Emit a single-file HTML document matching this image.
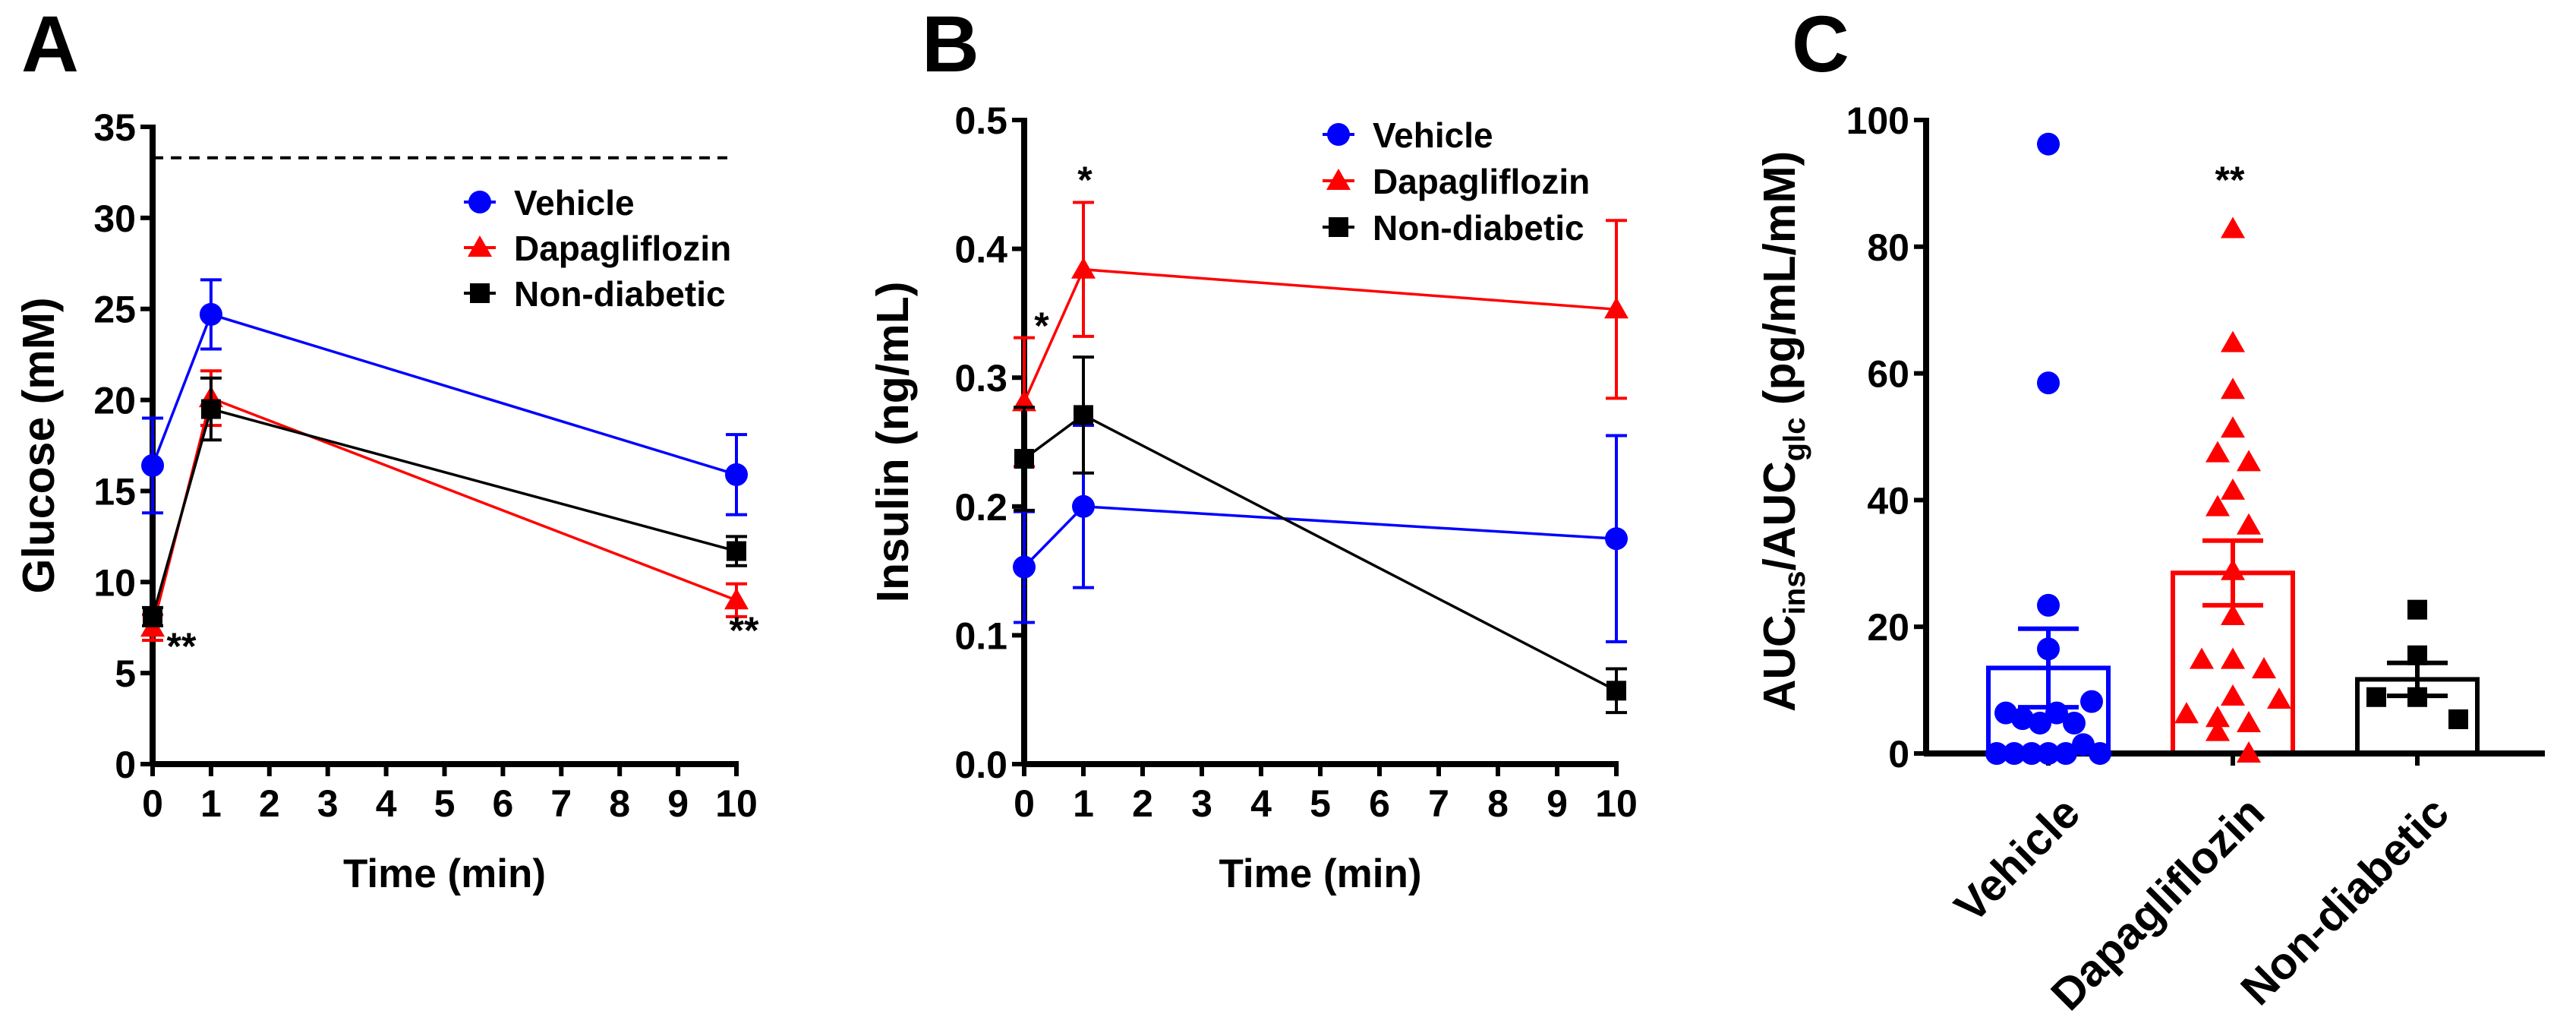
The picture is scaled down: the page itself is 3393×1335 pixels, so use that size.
<!DOCTYPE html>
<html><head><meta charset="utf-8"><style>
html,body{margin:0;padding:0;background:#fff}
svg{display:block}
text{font-family:"Liberation Sans",Arial,sans-serif;font-weight:bold}
</style></head><body>
<svg id="fig" width="3393" height="1335" viewBox="0 0 3393 1335" xmlns="http://www.w3.org/2000/svg"></svg>
<script>
const timesMin = [0, 1, 10];
const xTicks = [0,1,2,3,4,5,6,7,8,9,10];
const glucoseTicks = [0,5,10,15,20,25,30,35];
const glucoseVehicle = [16.4, 24.7, 15.9];
const glucoseVehicleErr = [2.6, 1.9, 2.2];
const glucoseDapa = [7.5, 20.1, 9.0];
const glucoseDapaErr = [0.7, 1.5, 0.9];
const glucoseND = [8.1, 19.5, 11.7];
const glucoseNDErr = [0.5, 1.7, 0.8];
const glucoseThreshold = 33.3;
const insulinTicks = [0.0,0.1,0.2,0.3,0.4,0.5];
const insulinVehicle = [0.153, 0.200, 0.175];
const insulinVehicleErr = [0.043, 0.063, 0.080];
const insulinDapa = [0.281, 0.384, 0.353];
const insulinDapaErr = [0.050, 0.052, 0.069];
const insulinND = [0.237, 0.271, 0.057];
const insulinNDErr = [0.040, 0.045, 0.017];
const aucCategories = ["Vehicle","Dapagliflozin","Non-diabetic"];
const aucTicks = [0,20,40,60,80,100];
const aucMeans = [13.5, 28.5, 11.7];
const aucSEM = [6.2, 5.1, 2.6];
const aucVehiclePts = [96.2,58.5,23.4,16.5,6.4,5.5,4.8,6.4,4.8,8.2,1.4,0,0,0,0,0,0];
const aucVehicleJitter = [0,0,0,0,-56,-34,-11,11,34,57,46,-68,-45,-22,0,23,68];
const aucDapaPts = [82.8,64.8,57.4,51.3,47.4,46.0,41.5,38.9,36.0,28.8,21.7,14.8,14.8,13.3,9.0,8.5,6.2,5.6,4.8,3.4,0];
const aucDapaJitter = [0,0,0,0,-20,21,0,-20,21,0,0,-41,0,41,0,61,-61,-20,21,-20,21];
const aucNDPts = [22.7,15.5,8.9,8.9,5.4];
const aucNDJitter = [0,0,-54,0,54];

const NS="http://www.w3.org/2000/svg";
const svg=document.getElementById('fig');
function mk(tag,attrs,parent){const e=document.createElementNS(NS,tag);for(const k in attrs)e.setAttribute(k,attrs[k]);(parent||svg).appendChild(e);return e;}
function txt(s,attrs,parent){const e=mk('text',attrs,parent);e.textContent=s;return e;}

function marker(kind,x,y,color,g){
  let e;
  if(kind==='circle'){e=mk('circle',{cx:x,cy:y,r:15,fill:color},g);}
  else if(kind==='tri'){e=mk('polygon',{points:`${x},${y-16} ${x-16},${y+12} ${x+16},${y+12}`,fill:color},g);}
  else {e=mk('rect',{x:x-13,y:y-13,width:26,height:26,fill:color},g);}
  return e;
}

function linePanel(cfg){
  const g=mk('g',{});
  
  
  const sx=v=>cfg.x0+(v-0)*(cfg.x1-cfg.x0)/10;
  const sy=v=>cfg.y0-(v-cfg.ymin)*(cfg.y0-cfg.y1)/(cfg.ymax-cfg.ymin);
  const ya=mk('line',{x1:cfg.x0,y1:sy(cfg.ymax)-3,x2:cfg.x0,y2:cfg.y0+3,stroke:'#000','stroke-width':8},g);
  
  const xa=mk('line',{x1:cfg.x0-3,y1:cfg.y0,x2:sx(10)+3,y2:cfg.y0,stroke:'#000','stroke-width':8},g);
  
  cfg.yticks.forEach(v=>{
    mk('line',{x1:cfg.x0-16,y1:sy(v),x2:cfg.x0,y2:sy(v),stroke:'#000','stroke-width':6},g);
    const t=txt(cfg.fmt(v),{x:cfg.x0-22,y:sy(v)+18,'text-anchor':'end','font-size':50},g);
    
  });
  xTicks.forEach(v=>{
    mk('line',{x1:sx(v),y1:cfg.y0,x2:sx(v),y2:cfg.y0+16,stroke:'#000','stroke-width':6},g);
    const t=txt(String(v),{x:sx(v),y:cfg.y0+69,'text-anchor':'middle','font-size':50},g);
    
  });
  const xt=txt('Time (min)',{x:(cfg.x0+sx(10))/2,y:cfg.y0+162,'text-anchor':'middle','font-size':53},g);
  
  const ytx=cfg.x0-cfg.ytOff, yty=(cfg.y0+sy(cfg.ymax))/2;
  const yt=txt(cfg.ytitle,{x:ytx,y:yty,'text-anchor':'middle','font-size':59,transform:`rotate(-90 ${ytx} ${yty})`},g);
  
  const pl=txt(cfg.letter,{x:cfg.lx,y:94,'font-size':105},g);
  
  if(cfg.threshold!==undefined){
    const d=mk('line',{x1:cfg.x0,y1:sy(cfg.threshold),x2:sx(10)-12,y2:sy(cfg.threshold),stroke:'#000','stroke-width':4,'stroke-dasharray':'14 10'},g);
    
  }
  cfg.series.forEach(s=>{
    const sg=mk('g',{},g);
    
    
    const pts=timesMin.map((t,i)=>sx(t)+','+sy(s.vals[i])).join(' ');
    mk('polyline',{points:pts,fill:'none',stroke:s.color,'stroke-width':3.5},sg);
    timesMin.forEach((t,i)=>{
      const x=sx(t),yt=sy(s.vals[i]+s.err[i]),yb=sy(s.vals[i]-s.err[i]);
      mk('line',{x1:x,y1:yt,x2:x,y2:yb,stroke:s.color,'stroke-width':4},sg);
      mk('line',{x1:x-14,y1:yt,x2:x+14,y2:yt,stroke:s.color,'stroke-width':4},sg);
      mk('line',{x1:x-14,y1:yb,x2:x+14,y2:yb,stroke:s.color,'stroke-width':4},sg);
    });
    timesMin.forEach((t,i)=>{
      const m=marker(s.kind,sx(t),sy(s.vals[i]),s.color,sg);
      
      
    });
  });
  cfg.series.forEach((s,i)=>{
    const y=cfg.ly+i*cfg.lgap;
    const lg=mk('g',{},g);
    
    
    mk('line',{x1:cfg.lmx,y1:y,x2:cfg.lmx+42,y2:y,stroke:s.color,'stroke-width':4},lg);
    marker(s.kind,cfg.lmx+21,y,s.color,lg);
    txt(s.label,{x:cfg.lmx+66,y:y+17,'font-size':46},lg);
  });
  cfg.stars.forEach(st=>{
    const e=txt(st[2],{x:st[0],y:st[1],'text-anchor':'middle','font-size':50,'font-weight':'normal'},g);
    
  });
}

linePanel({name:'panel-a-glucose',x0:201,x1:970,y0:1006,y1:167,ymin:0,ymax:35,yticks:glucoseTicks,fmt:v=>String(v),
  ytitle:'Glucose (mM)',ytOff:130,letter:'A',lx:28,threshold:glucoseThreshold,
  series:[{key:'vehicle',label:'Vehicle',vals:glucoseVehicle,err:glucoseVehicleErr,color:'#0000ff',kind:'circle'},
          {key:'dapagliflozin',label:'Dapagliflozin',vals:glucoseDapa,err:glucoseDapaErr,color:'#ff0000',kind:'tri'},
          {key:'non-diabetic',label:'Non-diabetic',vals:glucoseND,err:glucoseNDErr,color:'#000000',kind:'square'}],
  lmx:611,ly:266,lgap:60,
  stars:[[239,868],[980,847]].map(a=>[a[0],a[1],'**'])});

linePanel({name:'panel-b-insulin',x0:1349,x1:2129,y0:1006,y1:158,ymin:0,ymax:0.5,yticks:insulinTicks,fmt:v=>v.toFixed(1),
  ytitle:'Insulin (ng/mL)',ytOff:153,letter:'B',lx:1214,
  series:[{key:'vehicle',label:'Vehicle',vals:insulinVehicle,err:insulinVehicleErr,color:'#0000ff',kind:'circle'},
          {key:'dapagliflozin',label:'Dapagliflozin',vals:insulinDapa,err:insulinDapaErr,color:'#ff0000',kind:'tri'},
          {key:'non-diabetic',label:'Non-diabetic',vals:insulinND,err:insulinNDErr,color:'#000000',kind:'square'}],
  lmx:1742,ly:177,lgap:61,
  stars:[[1372,446,'*'],[1429,254,'*']]});

(function(){
  const g=mk('g',{});
  
  
  const x0=2537,y0=992,y1=158,ymax=100;
  const sy=v=>y0-v*(y0-y1)/ymax;
  const centers=[2698,2941,3184];
  const colors=['#0000ff','#ff0000','#000000'];
  const kinds=['circle','tri','square'];
  const pts=[aucVehiclePts,aucDapaPts,aucNDPts];
  const jit=[aucVehicleJitter,aucDapaJitter,aucNDJitter];
  aucCategories.forEach((c,i)=>{
    const cx=centers[i];
    const b=mk('rect',{x:cx-79,y:sy(aucMeans[i]),width:158,height:y0-sy(aucMeans[i]),fill:'none',stroke:colors[i],'stroke-width':6},g);
    
  });
  const ya=mk('line',{x1:x0,y1:y1-3,x2:x0,y2:y0+3,stroke:'#000','stroke-width':8},g);
  
  const xa=mk('line',{x1:x0-3,y1:y0,x2:3352,y2:y0,stroke:'#000','stroke-width':8},g);
  
  aucTicks.forEach(v=>{
    mk('line',{x1:x0-16,y1:sy(v),x2:x0,y2:sy(v),stroke:'#000','stroke-width':6},g);
    const t=txt(String(v),{x:x0-22,y:sy(v)+18,'text-anchor':'end','font-size':50},g);
    
  });
  aucCategories.forEach((c,i)=>{
    const cx=centers[i];
    mk('line',{x1:cx,y1:y0,x2:cx,y2:y0+16,stroke:'#000','stroke-width':6},g);
    const ax=cx+45, ay=y0+82;
    const t=txt(c,{x:ax,y:ay,'text-anchor':'end','font-size':59,transform:`rotate(-45 ${ax} ${ay})`},g);
    
    pts[i].forEach((v,j)=>{
      const m=marker(kinds[i],cx+jit[i][j],sy(v),colors[i],g);
      
      
    });
    const top=sy(aucMeans[i]+aucSEM[i]),bot=sy(aucMeans[i]-aucSEM[i]);
    const eg=mk('g',{},g);
    
    
    mk('line',{x1:cx,y1:top,x2:cx,y2:bot,stroke:colors[i],'stroke-width':6},eg);
    mk('line',{x1:cx-40,y1:top,x2:cx+40,y2:top,stroke:colors[i],'stroke-width':6},eg);
    mk('line',{x1:cx-40,y1:bot,x2:cx+40,y2:bot,stroke:colors[i],'stroke-width':6},eg);
  });
  const tx=2364,ty=568;
  const yt=mk('text',{x:tx,y:ty,'text-anchor':'middle','font-size':59,transform:`rotate(-90 ${tx} ${ty})`},g);
  
  yt.innerHTML='AUC<tspan font-size="40" dy="13">ins</tspan><tspan dy="-13">/AUC</tspan><tspan font-size="40" dy="13">glc</tspan><tspan dy="-13"> (pg/mL/mM)</tspan>';
  const pl=txt('C',{x:2360,y:94,'font-size':105},g);
  
  const st=txt('**',{x:2937,y:254,'text-anchor':'middle','font-size':50,'font-weight':'normal'},g);
  
})();
</script>
</body></html>
